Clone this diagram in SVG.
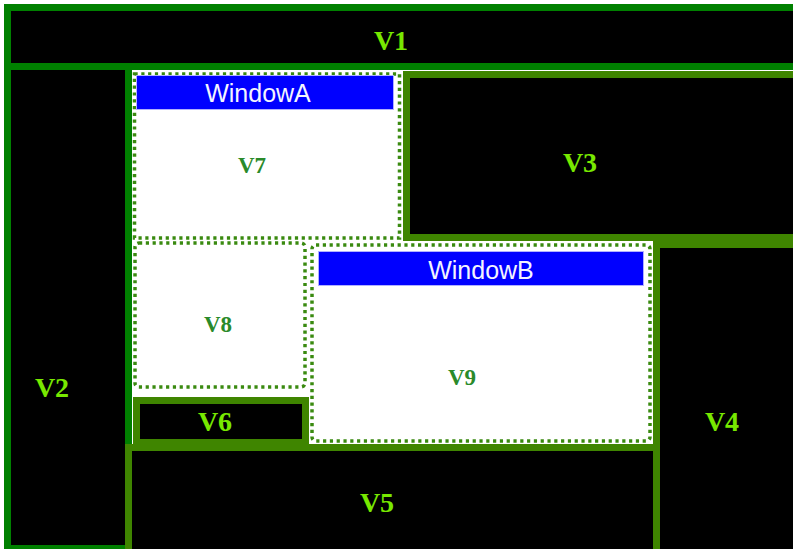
<svg xmlns="http://www.w3.org/2000/svg" width="793" height="549" viewBox="0 0 793 549">
<style>
.blk{fill:#000}
.dk{stroke:#008000;stroke-width:7}
.ol{stroke:#3f8500;stroke-width:7}
.dot{fill:none;stroke:#3a8a10;stroke-width:3.5;stroke-dasharray:3.2 3.6}
.bar{fill:#0000ff;stroke:#b0b0ff;stroke-width:1}
.lbl{font-family:"Liberation Serif",serif;font-weight:bold;font-size:28px;fill:#78e800;text-anchor:middle}
.wl{font-family:"Liberation Serif",serif;font-weight:bold;font-size:23px;fill:#2a8a2a;text-anchor:middle}
.tt{font-family:"Liberation Sans",Arial,sans-serif;font-size:25px;fill:#f4f4ff;text-anchor:middle}
</style>
<rect x="0" y="0" width="793" height="549" fill="#fff"/>
<rect x="130" y="70" width="525" height="376" fill="#fff"/>
<g id="V2"><rect class="blk dk" x="7.5" y="66.5" width="121" height="482"/><text class="lbl" x="52" y="397">V2</text></g>
<g id="V1"><rect class="blk dk" x="7.5" y="7.5" width="800" height="59"/><text class="lbl" x="391" y="50">V1</text></g>
<g id="V3"><rect class="blk ol" x="406.5" y="74.5" width="400" height="163"/><text class="lbl" x="580" y="172">V3</text></g>
<g id="V4"><rect class="blk ol" x="656.5" y="244.5" width="150" height="310"/><text class="lbl" x="722" y="431">V4</text></g>
<g id="V5"><rect class="blk ol" x="128.5" y="447.5" width="528" height="110"/><text class="lbl" x="377" y="512">V5</text></g>
<g id="V6"><rect class="blk ol" x="136.5" y="400.5" width="169" height="42"/><text class="lbl" x="215" y="431">V6</text></g>
<g id="V7"><rect class="dot" x="134.5" y="74" width="265" height="164"/><rect class="bar" x="136.5" y="75.5" width="257" height="34"/><text class="tt" x="258" y="102">WindowA</text><text class="wl" x="252" y="173">V7</text></g>
<g id="V8"><rect class="dot" x="135" y="243" width="170" height="144" rx="4"/><text class="wl" x="218" y="332">V8</text></g>
<g id="V9"><rect class="dot" x="312" y="245" width="338" height="196" rx="4"/><rect class="bar" x="318.5" y="251.5" width="325" height="34"/><text class="tt" x="481" y="279">WindowB</text><text class="wl" x="462" y="385">V9</text></g>
<g id="connectors"/>
</svg>
